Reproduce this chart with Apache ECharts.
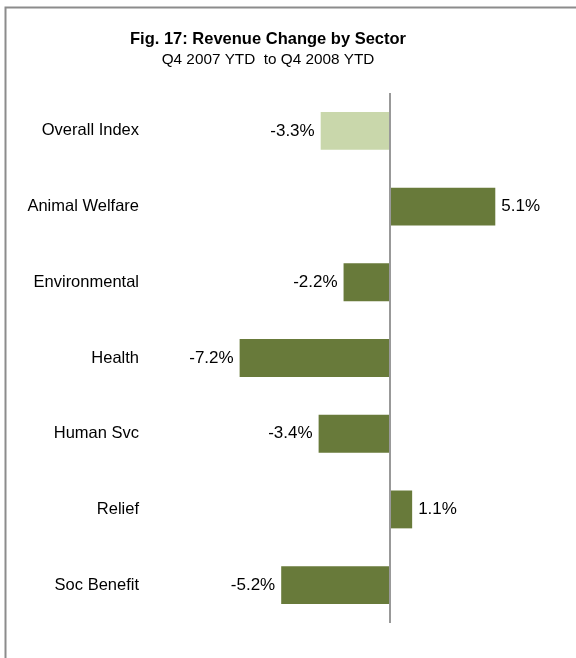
<!DOCTYPE html>
<html>
<head>
<meta charset="utf-8">
<script src="https://cdn.jsdelivr.net/npm/echarts@6/dist/echarts.min.js"></script>
<style>
  html, body { margin: 0; padding: 0; background: #fff; }
  #chart { width: 576px; height: 658px; }
</style>
</head>
<body>
<div id="chart"></div>
<script>
// Sector revenue change, Q4 2007 YTD to Q4 2008 YTD (percent)
const sectors = ['Overall Index', 'Animal Welfare', 'Environmental', 'Health', 'Human Svc', 'Relief', 'Soc Benefit'];
const changes = [-3.3, 5.1, -2.2, -7.2, -3.4, 1.1, -5.2];
const highlighted = ['Overall Index'];

const FONT = '"Liberation Sans", Arial, sans-serif';
const DARK = '#687a3a';
const LIGHT = '#c9d7ab';

const chart = echarts.init(document.getElementById('chart'), null, { renderer: 'canvas' });

const barData = sectors.map((name, i) => {
  const v = changes[i];
  return {
    value: v,
    itemStyle: { color: highlighted.includes(name) ? LIGHT : DARK },
    label: { position: v < 0 ? 'left' : 'right' }
  };
});

chart.setOption({
  animation: false,
  backgroundColor: '#fff',
  graphic: [{
    type: 'rect',
    shape: { x: 5.5, y: 7.5, width: 620, height: 700 },
    style: { fill: 'none', stroke: '#8c8c8c', lineWidth: 2 },
    silent: true
  }],
  title: {
    text: 'Fig. 17: Revenue Change by Sector',
    subtext: 'Q4 2007 YTD  to Q4 2008 YTD',
    left: 263,
    textAlign: 'center',
    top: 26,
    itemGap: 4,
    textStyle: { fontFamily: FONT, fontSize: 16.5, fontWeight: 'bold', color: '#000' },
    subtextStyle: { fontFamily: FONT, fontSize: 15.3, color: '#000' }
  },
  grid: { left: 223, width: 291, top: 93, height: 530, containLabel: false },
  xAxis: {
    type: 'value',
    min: -8,
    max: 6,
    show: false
  },
  yAxis: {
    type: 'category',
    data: sectors,
    inverse: true,
    axisLine: { show: false },
    axisTick: { show: false },
    axisLabel: {
      margin: 84,
      fontFamily: FONT,
      fontSize: 16.5,
      color: '#000'
    },
    splitLine: { show: false }
  },
  series: [{
    type: 'bar',
    data: barData,
    barWidth: '50%',
    label: {
      show: true,
      distance: 6,
      fontFamily: FONT,
      fontSize: 17,
      color: '#000',
      formatter: p => p.value.toFixed(1) + '%'
    },
    markLine: {
      silent: true,
      symbol: 'none',
      label: { show: false },
      lineStyle: { color: '#999', width: 2, type: 'solid' },
      data: [{ xAxis: 0 }]
    }
  }]
});
</script>
</body>
</html>
